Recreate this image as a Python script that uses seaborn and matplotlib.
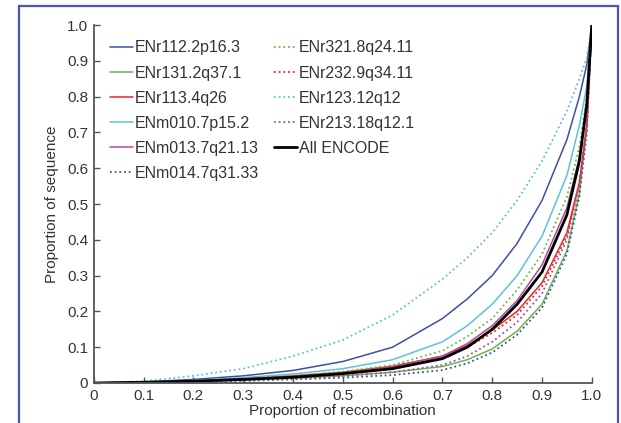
import pandas as pd
import matplotlib
matplotlib.use("Agg")
import matplotlib.pyplot as plt
import seaborn as sns
from matplotlib.patches import Rectangle

# --- Data ---
x_vals = [0, 0.1, 0.2, 0.3, 0.4, 0.5, 0.6, 0.7, 0.75, 0.8, 0.85, 0.9, 0.95, 0.975, 0.99, 1.0]

enr112 = [0, .003, .010, .020, .035, .060, .100, .180, .235, .300, .390, .510, .680, .800, .890, 1.0]
enr131 = [0, .001, .004, .008, .013, .020, .030, .046, .065, .095, .145, .220, .370, .530, .720, 1.0]
enr113 = [0, .002, .006, .012, .020, .030, .047, .075, .105, .148, .200, .280, .420, .560, .720, 1.0]
enm010 = [0, .002, .007, .015, .025, .040, .065, .115, .160, .220, .300, .410, .580, .720, .830, 1.0]
enm013 = [0, .002, .005, .010, .017, .028, .045, .075, .110, .160, .230, .330, .490, .630, .780, 1.0]
enm014 = [0, .001, .003, .006, .010, .015, .022, .036, .055, .085, .135, .210, .360, .520, .700, 1.0]
enr321 = [0, .002, .006, .012, .020, .032, .050, .090, .130, .180, .260, .360, .520, .660, .800, 1.0]
enr232 = [0, .002, .005, .011, .018, .028, .043, .070, .100, .140, .190, .270, .410, .560, .720, 1.0]
enr123 = [0, .005, .020, .040, .075, .120, .190, .290, .350, .420, .510, .620, .760, .850, .910, 1.0]
enr213 = [0, .001, .004, .008, .013, .020, .030, .050, .075, .115, .170, .250, .400, .550, .720, 1.0]
all_encode = [0, .002, .005, .010, .016, .026, .040, .068, .100, .150, .220, .310, .470, .620, .780, 1.0]

series_names = ["ENr112.2p16.3", "ENr131.2q37.1", "ENr113.4q26", "ENm010.7p15.2",
                "ENm013.7q21.13", "ENm014.7q31.33", "ENr321.8q24.11", "ENr232.9q34.11",
                "ENr123.12q12", "ENr213.18q12.1", "All ENCODE"]
series_values = [enr112, enr131, enr113, enm010, enm013, enm014,
                 enr321, enr232, enr123, enr213, all_encode]

x_ticks = [0, 0.1, 0.2, 0.3, 0.4, 0.5, 0.6, 0.7, 0.8, 0.9, 1.0]
x_tick_labels = ["0", "0.1", "0.2", "0.3", "0.4", "0.5", "0.6", "0.7", "0.8", "0.9", "1.0"]
y_ticks = [0, 0.1, 0.2, 0.3, 0.4, 0.5, 0.6, 0.7, 0.8, 0.9, 1.0]
y_tick_labels = ["0", "0.1", "0.2", "0.3", "0.4", "0.5", "0.6", "0.7", "0.8", "0.9", "1.0"]

# --- Styles ---
BLUE = "#3c4fa6"
GREEN = "#66b84a"
RED = "#e8262a"
CYAN = "#5cc3d6"
MAGENTA = "#b04a9c"
DOT = (0, (1, 1.6))
styles = [
    (BLUE, "-", 1.1), (GREEN, "-", 1.1), (RED, "-", 1.1), (CYAN, "-", 1.1),
    (MAGENTA, "-", 1.1), (BLUE, DOT, 1.3), (GREEN, DOT, 1.3), (RED, DOT, 1.3),
    (CYAN, DOT, 1.3), (MAGENTA, DOT, 1.3), ("black", "-", 2.0),
]

sns.set_style("ticks")
plt.rcParams['font.family'] = ['Liberation Sans', 'DejaVu Sans']

fig = plt.figure(figsize=(6.21, 4.23), dpi=100)
ax = fig.add_axes([0.151, 0.0946, 0.802, 0.846])

for name, vals, (col, ls, lw) in zip(series_names, series_values, styles):
    df = pd.DataFrame({"x": x_vals, "y": vals})
    sns.lineplot(data=df, x="x", y="y", ax=ax, color=col, linestyle=ls,
                 linewidth=lw, label=name, sort=False)

ax.set_xlim(0, 1)
ax.set_ylim(0, 1)
ax.set_xticks(x_ticks)
ax.set_xticklabels(x_tick_labels)
ax.set_yticks(y_ticks)
ax.set_yticklabels(y_tick_labels)
ax.set_xlabel("Proportion of recombination", fontsize=11, labelpad=1)
ax.set_ylabel("Proportion of sequence", fontsize=11, labelpad=6)
ax.tick_params(direction="in", length=4, width=1, color="#555555",
               labelsize=11, labelcolor="#333333", pad=4)
for s in ["top", "right"]:
    ax.spines[s].set_visible(False)
for s in ["left", "bottom"]:
    ax.spines[s].set_color("#555555")
    ax.spines[s].set_linewidth(1.3)
ax.xaxis.label.set_color("#333333")
ax.yaxis.label.set_color("#333333")

leg = ax.legend(loc="upper left", bbox_to_anchor=(0.02, 0.975), ncol=2, frameon=False,
                fontsize=11.5, handlelength=1.45, handletextpad=0.12,
                columnspacing=0.9, labelspacing=0.63, borderaxespad=0)
for t in leg.get_texts():
    t.set_color("#333333")

# blue frame around the figure
fig.patches.append(Rectangle((19 / 621, -0.1), 599 / 621, 1.0 - 6 / 423 + 0.1,
                             transform=fig.transFigure, fill=False,
                             edgecolor="#4a55b8", linewidth=1.6, clip_on=False))

fig.savefig("out.png", dpi=100)
